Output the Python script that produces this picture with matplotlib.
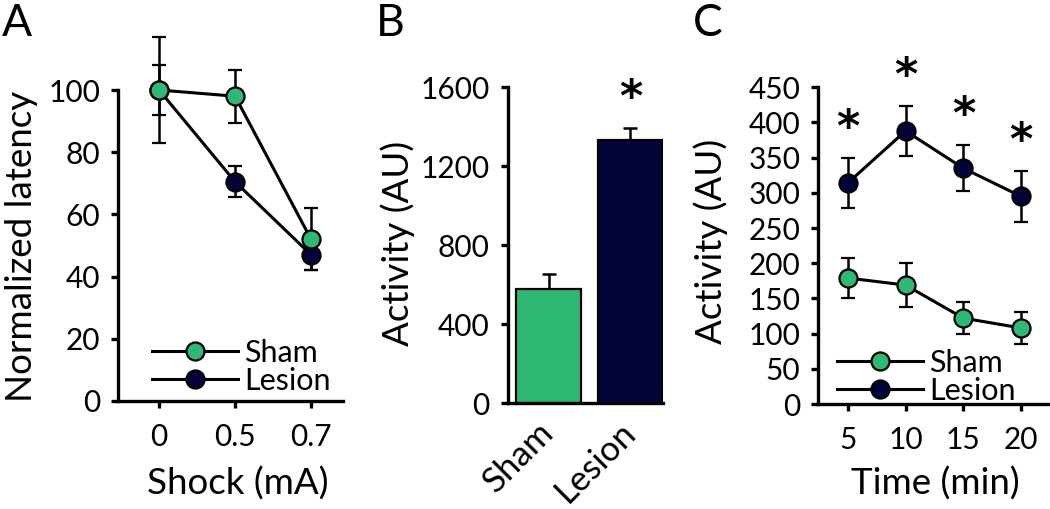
import matplotlib
matplotlib.use("Agg")
import matplotlib.pyplot as plt
from matplotlib.lines import Line2D
import numpy as np

plt.rcParams['font.family'] = ['Lato', 'DejaVu Sans']

# ---------------- data ----------------
# Panel A
shock_labels = ["0", "0.5", "0.7"]
sham_latency = [100, 98, 52]
sham_latency_err = [8, 8.5, 10]
lesion_latency = [100, 70.5, 47]
lesion_latency_err = [17, 5, 5]

# Panel B
groups = ["Sham", "Lesion"]
activity_total = [580, 1335]
activity_total_err = [75, 60]
sig_B = [False, True]

# Panel C
time_min = [5, 10, 15, 20]
sham_activity = [179, 169, 122, 108]
sham_activity_err = [29, 31, 23, 23]
lesion_activity = [314, 388, 335, 295]
lesion_activity_err = [36, 36, 33, 36]

GREEN = "#2eb873"
NAVY = "#03033a"

W, H = 1050, 509
fig = plt.figure(figsize=(W / 100, H / 100), dpi=100)

TICK_FS = 21.5
LEG_FS = 22
LABEL_FS = 26.5
LW_SPINE = 2.4


def px_axes(l, t, r, b):
    return fig.add_axes([l / W, 1 - b / H, (r - l) / W, (b - t) / H])


def style(ax):
    for s in ("top", "right"):
        ax.spines[s].set_visible(False)
    for s in ("left", "bottom"):
        ax.spines[s].set_linewidth(LW_SPINE)
    ax.tick_params(width=LW_SPINE, length=5, labelsize=TICK_FS, pad=8)


def fig_pos(x, y):
    return (x / W, 1 - y / H)


line_kw = dict(lw=2.2, capsize=5, elinewidth=1.8, capthick=1.8,
               marker="o", markersize=13, markeredgecolor="black",
               markeredgewidth=1.6, color="black", clip_on=False)


def legend_handles():
    return [Line2D([], [], color="black", lw=2.2, marker="o", markersize=13,
                   markeredgecolor="black", markeredgewidth=1.6,
                   markerfacecolor=c) for c in (GREEN, NAVY)]


def add_legend(ax, x, y):
    ax.legend(legend_handles(), ["Sham", "Lesion"], loc="center left",
              bbox_to_anchor=fig_pos(x, y), bbox_transform=fig.transFigure,
              frameon=False, fontsize=LEG_FS, handlelength=2.8,
              handletextpad=0.22, labelspacing=0.0, borderpad=0,
              borderaxespad=0)


def star(ax, x, y):
    ax.annotate("*", (x, y), xytext=(0, 21), textcoords="offset points",
                ha="center", va="center", fontsize=32, fontweight="bold",
                family="DejaVu Sans", annotation_clip=False)


# ---------------- Panel A ----------------
axA = px_axes(118, 90, 343, 401)
xa = np.arange(len(shock_labels))
for e in (axA.errorbar(xa, lesion_latency, yerr=lesion_latency_err,
                       markerfacecolor=NAVY, **line_kw),
          axA.errorbar(xa, sham_latency, yerr=sham_latency_err,
                       markerfacecolor=GREEN, **line_kw)):
    for c in e.lines[1] + e.lines[2]:
        c.set_clip_on(False)
axA.set_ylim(0, 100)
axA.set_xlim(-0.54, 2.42)
axA.set_yticks([0, 20, 40, 60, 80, 100])
axA.set_xticks(xa)
axA.set_xticklabels(shock_labels)
style(axA)
axA.tick_params(axis="x", pad=11)
add_legend(axA, 152, 367)
axA.set_ylabel("Normalized latency", fontsize=LABEL_FS)
axA.yaxis.set_label_coords(*fig_pos(22, 246), transform=fig.transFigure)
axA.yaxis.label.set_va("center")
axA.set_xlabel("Shock (mA)", fontsize=LABEL_FS)
axA.xaxis.set_label_coords(*fig_pos(238, 484), transform=fig.transFigure)
axA.xaxis.label.set_va("center")

# ---------------- Panel B ----------------
axB = px_axes(507.7, 87.3, 663, 403.3)
xb = np.arange(len(groups))
axB.bar(xb, activity_total, width=0.8, color=[GREEN, NAVY],
        edgecolor="black", linewidth=1.6, zorder=2)
axB.errorbar(xb, activity_total,
             yerr=[np.zeros(len(groups)), activity_total_err],
             fmt="none", ecolor="black", elinewidth=1.8, capsize=5,
             capthick=1.8, zorder=1)
for xi, v, e, s in zip(xb, activity_total, activity_total_err, sig_B):
    if s:
        star(axB, xi, v + e)
axB.set_ylim(0, 1600)
axB.set_xlim(-0.5, 1.4)
axB.set_yticks([0, 400, 800, 1200, 1600])
axB.set_xticks(xb)
axB.set_xticklabels(groups, rotation=45, ha="right", va="center",
                    rotation_mode="anchor")
style(axB)
axB.tick_params(axis="x", length=0, pad=17, labelsize=25)
axB.set_ylabel("Activity (AU)", fontsize=LABEL_FS)
axB.yaxis.set_label_coords(*fig_pos(398, 243), transform=fig.transFigure)
axB.yaxis.label.set_va("center")

# ---------------- Panel C ----------------
axC = px_axes(818.3, 87.3, 1050, 404)
axC.errorbar(time_min, lesion_activity, yerr=lesion_activity_err,
             markerfacecolor=NAVY, **line_kw)
axC.errorbar(time_min, sham_activity, yerr=sham_activity_err,
             markerfacecolor=GREEN, **line_kw)
for t, v, e in zip(time_min, lesion_activity, lesion_activity_err):
    star(axC, t, v + e)
axC.set_ylim(0, 450)
axC.set_xlim(2.45, 22.5)
axC.set_yticks(np.arange(0, 451, 50))
axC.set_xticks(time_min)
style(axC)
axC.tick_params(axis="x", pad=11)
add_legend(axC, 837, 376.5)
axC.set_ylabel("Activity (AU)", fontsize=LABEL_FS)
axC.yaxis.set_label_coords(*fig_pos(711, 241), transform=fig.transFigure)
axC.yaxis.label.set_va("center")
axC.set_xlabel("Time (min)", fontsize=LABEL_FS)
axC.xaxis.set_label_coords(*fig_pos(935, 484), transform=fig.transFigure)
axC.xaxis.label.set_va("center")

# ---------------- panel letters ----------------
for letter, x in (("A", 2), ("B", 376), ("C", 693)):
    fig.text(*fig_pos(x, 23), letter, fontsize=32, ha="left", va="center")

fig.savefig("out.png", dpi=100)
